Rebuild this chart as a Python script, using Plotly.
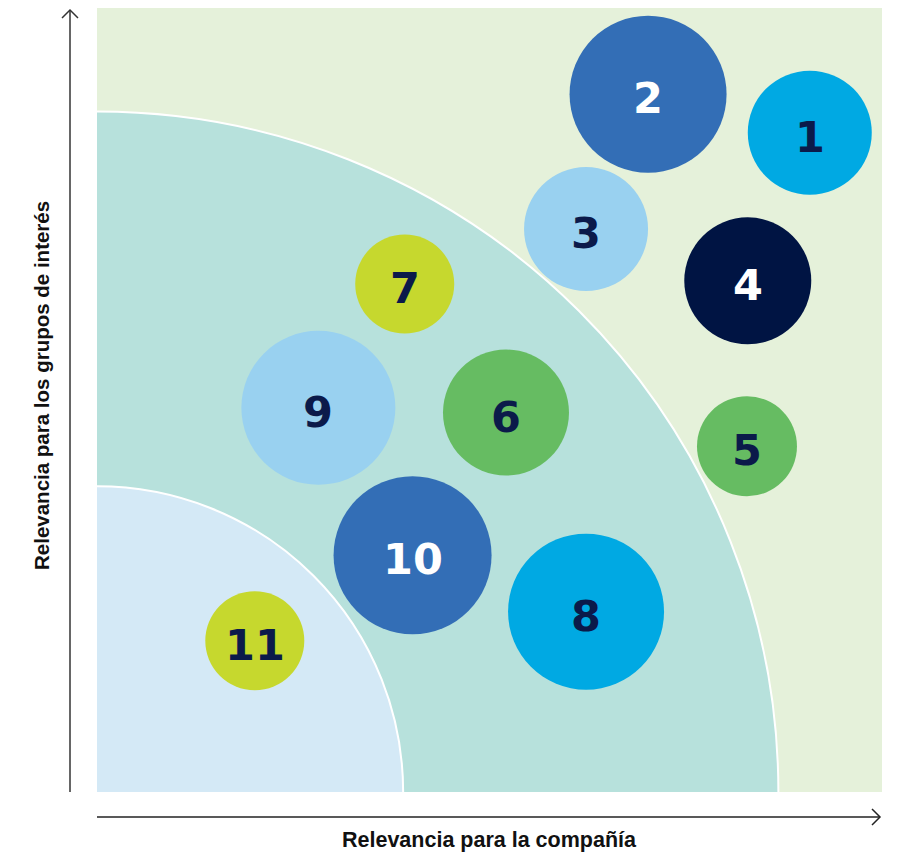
import plotly.graph_objects as go

# ---- data ----
labels = ["1", "2", "3", "4", "5", "6", "7", "8", "9", "10", "11"]
rel_company = [90.8, 70.2, 62.3, 82.9, 82.8, 52.1, 39.2, 62.3, 28.2, 40.2, 20.1]
rel_stakeholders = [84.1, 89.0, 71.8, 65.2, 44.1, 48.4, 64.8, 23.0, 49.0, 30.2, 19.3]
bubble_size = [124, 157, 124, 127, 100, 126, 99, 156, 154, 158, 99]
bubble_color = ["#00A9E3", "#336EB6", "#99D1F0", "#001443", "#66BC62", "#66BC62",
                "#C6D82E", "#00A9E3", "#99D1F0", "#336EB6", "#C6D82E"]
text_color = ["#0B1A4A", "#FFFFFF", "#0B1A4A", "#FFFFFF", "#0B1A4A", "#0B1A4A",
              "#0B1A4A", "#0B1A4A", "#0B1A4A", "#FFFFFF", "#0B1A4A"]
zone_radius = [86.8, 39.0]
zone_color = ["#B7E1DC", "#D4E9F6"]
x_title = "Relevancia para la compañía"
y_title = "Relevancia para los grupos de interés"

W, H = 905, 856
L, R, T, B = 97, 23, 8, 64
PW, PH = W - L - R, H - T - B


def px(xp):
    return (xp - L) / PW


def py(yp):
    return (H - B - yp) / PH


fig = go.Figure()
fig.add_trace(go.Scatter(
    x=rel_company, y=rel_stakeholders, mode="markers",
    marker=dict(size=bubble_size, color=bubble_color, opacity=1, line=dict(width=0)),
    hoverinfo="skip", showlegend=False, cliponaxis=False,
))

shapes = []
for r, c in zip(zone_radius, zone_color):
    shapes.append(dict(type="circle", xref="x", yref="y", x0=-r, x1=r, y0=-r, y1=r,
                       fillcolor=c, line=dict(color="white", width=2), layer="below"))

ax_col = "#333333"
# y-axis arrow
shapes.append(dict(type="line", xref="paper", yref="paper", x0=px(70), x1=px(70),
                   y0=py(792), y1=py(10), line=dict(color=ax_col, width=1.5)))
shapes.append(dict(type="path", xref="paper", yref="paper",
                   path=f"M {px(62)} {py(18)} L {px(70)} {py(10)} L {px(78)} {py(18)}",
                   line=dict(color=ax_col, width=1.5)))
# x-axis arrow
shapes.append(dict(type="line", xref="paper", yref="paper", x0=px(97), x1=px(880),
                   y0=py(817), y1=py(817), line=dict(color="#222222", width=1.5)))
shapes.append(dict(type="path", xref="paper", yref="paper",
                   path=f"M {px(872)} {py(809)} L {px(880)} {py(817)} L {px(872)} {py(825)}",
                   line=dict(color="#222222", width=1.5)))

annotations = [
    dict(text=x_title, xref="paper", yref="paper", x=px(489), y=py(840),
         showarrow=False, font=dict(family="Liberation Sans", size=21.5, color="#111111", weight="bold"),
         xanchor="center", yanchor="middle"),
    dict(text=y_title, xref="paper", yref="paper", x=px(42), y=py(386), textangle=-90,
         showarrow=False, font=dict(family="Liberation Sans", size=20.5, color="#111111", weight="bold"),
         xanchor="center", yanchor="middle"),
]
for lab, xv, yv, tc in zip(labels, rel_company, rel_stakeholders, text_color):
    annotations.append(dict(text=lab, x=xv, y=yv, xref="x", yref="y", showarrow=False,
                            xanchor="center", yanchor="middle", yshift=-4,
                            font=dict(family="DejaVu Sans", size=43, color=tc, weight="bold")))

fig.update_layout(
    width=W, height=H,
    margin=dict(l=L, r=R, t=T, b=B),
    paper_bgcolor="white", plot_bgcolor="#E5F1DA",
    xaxis=dict(range=[0, 100], showgrid=False, zeroline=False, showticklabels=False,
               showline=False, ticks="", fixedrange=True),
    yaxis=dict(range=[0, 100], showgrid=False, zeroline=False, showticklabels=False,
               showline=False, ticks="", fixedrange=True),
    shapes=shapes, annotations=annotations,
)

fig.write_html("out.html", config={"displayModeBar": False},
               post_script="document.body.style.margin='0';")
